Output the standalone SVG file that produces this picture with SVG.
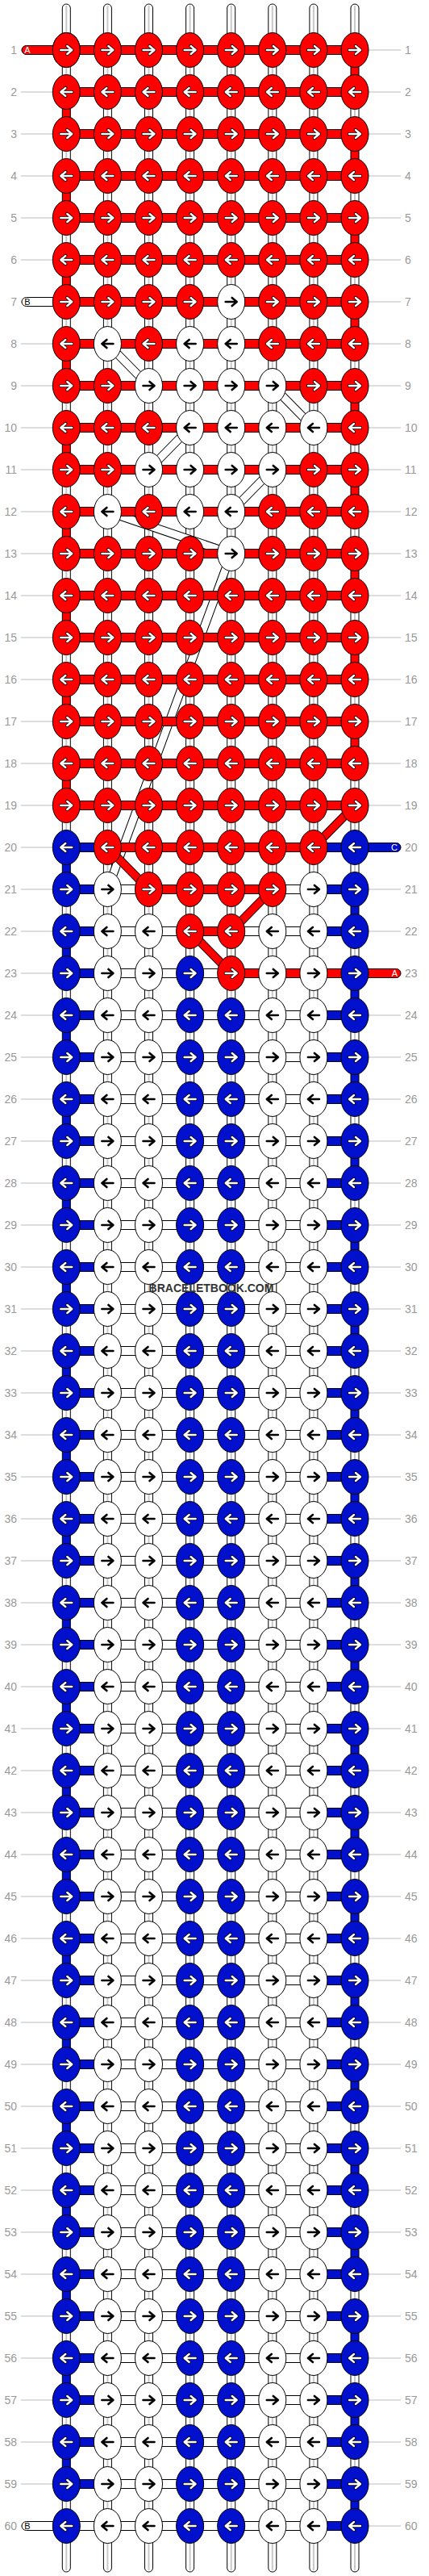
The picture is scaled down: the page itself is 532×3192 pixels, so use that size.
<svg xmlns="http://www.w3.org/2000/svg" width="532" height="3192" viewBox="0 0 532 3192">
<style>
.st{stroke:#000;stroke-width:1}
.r{fill:#f00}.b{fill:#0010cc}.w{fill:#fff}
.sp{stroke:#c8c8c8;stroke-width:2;fill:none}
.ln{stroke:#bbb;stroke-width:1;fill:none}
.lb{font-family:"Liberation Sans",Arial,sans-serif;font-size:14px;fill:#999}
.ll{text-anchor:end}
.ao{fill:none;stroke:#000;stroke-width:4.2;stroke-linecap:round;stroke-linejoin:round}
.aw{fill:none;stroke:#fff;stroke-width:2.4;stroke-linecap:round;stroke-linejoin:round}
.ab{fill:none;stroke:#000;stroke-width:2.6;stroke-linecap:round;stroke-linejoin:round}
.tl{font-family:"Liberation Sans",Arial,sans-serif;font-size:11px;text-anchor:middle}
.dO{stroke:#000;stroke-width:11;fill:none}
.dW{stroke:#fff;stroke-width:9;fill:none}
.dR{stroke:#f00;stroke-width:9;fill:none}
.wm{font-family:"Liberation Sans",Arial,sans-serif;font-size:14px;font-weight:bold;fill:#333;text-anchor:middle}
</style>
<defs>
<path id="ar" d="M-7,0H6M1,-5L7,0L1,5"/>
<path id="al" d="M7,0H-6M-1,-5L-7,0L-1,5"/>
<g id="Rr"><ellipse class="r st" rx="17" ry="21.5"/><use href="#ar" class="ao"/><use href="#ar" class="aw"/></g>
<g id="Rl"><ellipse class="r st" rx="17" ry="21.5"/><use href="#al" class="ao"/><use href="#al" class="aw"/></g>
<g id="Br"><ellipse class="b st" rx="17" ry="21.5"/><use href="#ar" class="ao"/><use href="#ar" class="aw"/></g>
<g id="Bl"><ellipse class="b st" rx="17" ry="21.5"/><use href="#al" class="ao"/><use href="#al" class="aw"/></g>
<g id="Wr"><ellipse class="w st" rx="17" ry="21.5"/><use href="#ar" class="ab"/></g>
<g id="Wl"><ellipse class="w st" rx="17" ry="21.5"/><use href="#al" class="ab"/></g>
<rect id="hR" class="r st" y="-5.5" width="51.1" height="11"/>
<rect id="hB" class="b st" y="-5.5" width="51.1" height="11"/>
<rect id="hW" class="w st" y="-5.5" width="51.1" height="11"/>
<g id="sW"><rect class="w st" x="-5" y="0" width="10" height="52"/><path class="sp" d="M0,0V52"/></g>
<rect id="sR" class="r st" x="-5" y="0" width="10" height="52"/>
<rect id="sB" class="b st" x="-5" y="0" width="10" height="52"/>
<g id="vW"><use href="#sW" x="82.3"/><use href="#sW" x="133.4"/><use href="#sW" x="184.5"/><use href="#sW" x="235.6"/><use href="#sW" x="286.7"/><use href="#sW" x="337.8"/><use href="#sW" x="388.9"/><use href="#sW" x="440"/></g>
<g id="vR8"><use href="#sW" x="82.3"/><use href="#sW" x="133.4"/><use href="#sW" x="184.5"/><use href="#sW" x="235.6"/><use href="#sW" x="286.7"/><use href="#sW" x="337.8"/><use href="#sW" x="388.9"/><use href="#sR" x="440"/></g>
<g id="vR1"><use href="#sR" x="82.3"/><use href="#sW" x="133.4"/><use href="#sW" x="184.5"/><use href="#sW" x="235.6"/><use href="#sW" x="286.7"/><use href="#sW" x="337.8"/><use href="#sW" x="388.9"/><use href="#sW" x="440"/></g>
<g id="vB8"><use href="#sW" x="82.3"/><use href="#sW" x="133.4"/><use href="#sW" x="184.5"/><use href="#sW" x="235.6"/><use href="#sW" x="286.7"/><use href="#sW" x="337.8"/><use href="#sW" x="388.9"/><use href="#sB" x="440"/></g>
<g id="vB1"><use href="#sB" x="82.3"/><use href="#sW" x="133.4"/><use href="#sW" x="184.5"/><use href="#sW" x="235.6"/><use href="#sW" x="286.7"/><use href="#sW" x="337.8"/><use href="#sW" x="388.9"/><use href="#sW" x="440"/></g>
<path id="gl" class="ln" d="M26,0H66M456,0H497"/>
<g id="barsR"><use href="#hR" x="82.3"/><use href="#hR" x="133.4"/><use href="#hR" x="184.5"/><use href="#hR" x="235.6"/><use href="#hR" x="286.7"/><use href="#hR" x="337.8"/><use href="#hR" x="388.9"/></g>
<g id="barsB"><use href="#hB" x="82.3"/><use href="#hW" x="133.4"/><use href="#hW" x="184.5"/><use href="#hW" x="235.6"/><use href="#hW" x="286.7"/><use href="#hW" x="337.8"/><use href="#hB" x="388.9"/></g>
<g id="rowRR"><use href="#gl"/><use href="#barsR"/><use href="#Rr" x="82.3"/><use href="#Rr" x="133.4"/><use href="#Rr" x="184.5"/><use href="#Rr" x="235.6"/><use href="#Rr" x="286.7"/><use href="#Rr" x="337.8"/><use href="#Rr" x="388.9"/><use href="#Rr" x="440"/></g>
<g id="rowRL"><use href="#gl"/><use href="#barsR"/><use href="#Rl" x="82.3"/><use href="#Rl" x="133.4"/><use href="#Rl" x="184.5"/><use href="#Rl" x="235.6"/><use href="#Rl" x="286.7"/><use href="#Rl" x="337.8"/><use href="#Rl" x="388.9"/><use href="#Rl" x="440"/></g>
<g id="rowBR"><use href="#gl"/><use href="#barsB"/><use href="#Br" x="82.3"/><use href="#Wr" x="133.4"/><use href="#Wr" x="184.5"/><use href="#Br" x="235.6"/><use href="#Br" x="286.7"/><use href="#Wr" x="337.8"/><use href="#Wr" x="388.9"/><use href="#Br" x="440"/></g>
<g id="rowBL"><use href="#gl"/><use href="#barsB"/><use href="#Bl" x="82.3"/><use href="#Wl" x="133.4"/><use href="#Wl" x="184.5"/><use href="#Bl" x="235.6"/><use href="#Bl" x="286.7"/><use href="#Wl" x="337.8"/><use href="#Wl" x="388.9"/><use href="#Bl" x="440"/></g>
<g id="tt"><path class="w st" d="M-5,62V10A5,5 0 0 1 5,10V62Z"/><path class="sp" d="M0,7V62"/></g>
<g id="tb"><path class="w st" d="M-5,3130V3182A5,5 0 0 0 5,3182V3130Z"/><path class="sp" d="M0,3130V3185"/></g>
</defs>
<rect width="532" height="3192" fill="#fff"/>
<g id="connectors">
<g id="tails"><use href="#tt" x="82.3"/><use href="#tt" x="133.4"/><use href="#tt" x="184.5"/><use href="#tt" x="235.6"/><use href="#tt" x="286.7"/><use href="#tt" x="337.8"/><use href="#tt" x="388.9"/><use href="#tt" x="440"/>
<use href="#tb" x="82.3"/><use href="#tb" x="133.4"/><use href="#tb" x="184.5"/><use href="#tb" x="235.6"/><use href="#tb" x="286.7"/><use href="#tb" x="337.8"/><use href="#tb" x="388.9"/><use href="#tb" x="440"/></g>
<g id="verticals">
<use href="#vR8" y="62"/><use href="#vR1" y="114"/><use href="#vR8" y="166"/><use href="#vR1" y="218"/><use href="#vR8" y="270"/><use href="#vR1" y="322"/><use href="#vR8" y="374"/><use href="#vR1" y="426"/><use href="#vR8" y="478"/><use href="#vR1" y="530"/><use href="#vR8" y="582"/><use href="#vR1" y="634"/><use href="#vR8" y="686"/><use href="#vR1" y="738"/><use href="#vR8" y="790"/><use href="#vR1" y="842"/><use href="#vR8" y="894"/><use href="#vR1" y="946"/><use href="#vW" y="998"/>
<use href="#vB1" y="1050"/><use href="#vB8" y="1102"/><use href="#vB1" y="1154"/><use href="#vB8" y="1206"/>
<use href="#vB1" y="1258"/><use href="#vB8" y="1310"/><use href="#vB1" y="1362"/><use href="#vB8" y="1414"/><use href="#vB1" y="1466"/><use href="#vB8" y="1518"/><use href="#vB1" y="1570"/><use href="#vB8" y="1622"/><use href="#vB1" y="1674"/><use href="#vB8" y="1726"/><use href="#vB1" y="1778"/><use href="#vB8" y="1830"/><use href="#vB1" y="1882"/><use href="#vB8" y="1934"/><use href="#vB1" y="1986"/><use href="#vB8" y="2038"/><use href="#vB1" y="2090"/><use href="#vB8" y="2142"/><use href="#vB1" y="2194"/><use href="#vB8" y="2246"/><use href="#vB1" y="2298"/><use href="#vB8" y="2350"/><use href="#vB1" y="2402"/><use href="#vB8" y="2454"/><use href="#vB1" y="2506"/><use href="#vB8" y="2558"/><use href="#vB1" y="2610"/><use href="#vB8" y="2662"/><use href="#vB1" y="2714"/><use href="#vB8" y="2766"/><use href="#vB1" y="2818"/><use href="#vB8" y="2870"/><use href="#vB1" y="2922"/><use href="#vB8" y="2974"/><use href="#vB1" y="3026"/><use href="#vB8" y="3078"/>
</g>
<g id="diagonals">
<path class="dO" d="M133.4,426L184.5,478M337.8,478L388.9,530M235.6,530L184.5,582M337.8,582L286.7,634M133.4,634L286.7,686M286.7,686L133.4,1102"/>
<path class="dW" d="M133.4,426L184.5,478M337.8,478L388.9,530M235.6,530L184.5,582M337.8,582L286.7,634M133.4,634L286.7,686M286.7,686L133.4,1102"/>
<path class="dO" d="M440,998L388.9,1050M133.4,1050L184.5,1102M337.8,1102L286.7,1154M235.6,1154L286.7,1206"/>
<path class="dR" d="M440,998L388.9,1050M133.4,1050L184.5,1102M337.8,1102L286.7,1154M235.6,1154L286.7,1206"/>
</g>
</g>
<g id="row1"><use href="#rowRR" y="62"/><g transform="translate(0,62)"><path class="r st" d="M82,-5.5H32.5A5.5,5.5 0 0 0 32.5,5.5H82Z"/><text class="tl" x="34" y="4" fill="#fff">A</text><use href="#Rr" x="82.3"/></g></g>
<use id="row2" href="#rowRL" y="114"/>
<use id="row3" href="#rowRR" y="166"/>
<use id="row4" href="#rowRL" y="218"/>
<use id="row5" href="#rowRR" y="270"/>
<use id="row6" href="#rowRL" y="322"/>
<g id="row7" transform="translate(0,374)"><use href="#gl"/><use href="#barsR"/><path class="w st" d="M82,-5.5H32.5A5.5,5.5 0 0 0 32.5,5.5H82Z"/><text class="tl" x="34" y="4" fill="#000">B</text><use href="#Rr" x="82.3"/><use href="#Rr" x="133.4"/><use href="#Rr" x="184.5"/><use href="#Rr" x="235.6"/><use href="#Wr" x="286.7"/><use href="#Rr" x="337.8"/><use href="#Rr" x="388.9"/><use href="#Rr" x="440"/></g>
<g id="row8" transform="translate(0,426)"><use href="#gl"/><use href="#barsR"/><use href="#Rl" x="82.3"/><use href="#Wl" x="133.4"/><use href="#Rl" x="184.5"/><use href="#Wl" x="235.6"/><use href="#Wl" x="286.7"/><use href="#Rl" x="337.8"/><use href="#Rl" x="388.9"/><use href="#Rl" x="440"/></g>
<g id="row9" transform="translate(0,478)"><use href="#gl"/><use href="#barsR"/><use href="#Rr" x="82.3"/><use href="#Rr" x="133.4"/><use href="#Wr" x="184.5"/><use href="#Wr" x="235.6"/><use href="#Wr" x="286.7"/><use href="#Wr" x="337.8"/><use href="#Rr" x="388.9"/><use href="#Rr" x="440"/></g>
<g id="row10" transform="translate(0,530)"><use href="#gl"/><use href="#barsR"/><use href="#Rl" x="82.3"/><use href="#Rl" x="133.4"/><use href="#Rl" x="184.5"/><use href="#Wl" x="235.6"/><use href="#Wl" x="286.7"/><use href="#Wl" x="337.8"/><use href="#Wl" x="388.9"/><use href="#Rl" x="440"/></g>
<g id="row11" transform="translate(0,582)"><use href="#gl"/><use href="#barsR"/><use href="#Rr" x="82.3"/><use href="#Rr" x="133.4"/><use href="#Wr" x="184.5"/><use href="#Wr" x="235.6"/><use href="#Wr" x="286.7"/><use href="#Wr" x="337.8"/><use href="#Rr" x="388.9"/><use href="#Rr" x="440"/></g>
<g id="row12" transform="translate(0,634)"><use href="#gl"/><use href="#barsR"/><use href="#Rl" x="82.3"/><use href="#Wl" x="133.4"/><use href="#Rl" x="184.5"/><use href="#Wl" x="235.6"/><use href="#Wl" x="286.7"/><use href="#Rl" x="337.8"/><use href="#Rl" x="388.9"/><use href="#Rl" x="440"/></g>
<g id="row13" transform="translate(0,686)"><use href="#gl"/><use href="#barsR"/><use href="#Rr" x="82.3"/><use href="#Rr" x="133.4"/><use href="#Rr" x="184.5"/><use href="#Rr" x="235.6"/><use href="#Wr" x="286.7"/><use href="#Rr" x="337.8"/><use href="#Rr" x="388.9"/><use href="#Rr" x="440"/></g>
<use id="row14" href="#rowRL" y="738"/>
<use id="row15" href="#rowRR" y="790"/>
<use id="row16" href="#rowRL" y="842"/>
<use id="row17" href="#rowRR" y="894"/>
<use id="row18" href="#rowRL" y="946"/>
<use id="row19" href="#rowRR" y="998"/>
<g id="row20" transform="translate(0,1050)"><use href="#gl"/><use href="#hB" x="82.3"/><use href="#hR" x="133.4"/><use href="#hR" x="184.5"/><use href="#hR" x="235.6"/><use href="#hR" x="286.7"/><use href="#hR" x="337.8"/><use href="#hB" x="388.9"/><path class="b st" d="M440,-5.5H491.5A5.5,5.5 0 0 1 491.5,5.5H440Z"/><text class="tl" x="489" y="4" fill="#fff">C</text><use href="#Bl" x="82.3"/><use href="#Rl" x="133.4"/><use href="#Rl" x="184.5"/><use href="#Rl" x="235.6"/><use href="#Rl" x="286.7"/><use href="#Rl" x="337.8"/><use href="#Rl" x="388.9"/><use href="#Bl" x="440"/></g>
<g id="row21" transform="translate(0,1102)"><use href="#gl"/><use href="#hB" x="82.3"/><use href="#hW" x="133.4"/><use href="#hR" x="184.5"/><use href="#hR" x="235.6"/><use href="#hR" x="286.7"/><use href="#hW" x="337.8"/><use href="#hB" x="388.9"/><use href="#Br" x="82.3"/><use href="#Wr" x="133.4"/><use href="#Rr" x="184.5"/><use href="#Rr" x="235.6"/><use href="#Rr" x="286.7"/><use href="#Rr" x="337.8"/><use href="#Wr" x="388.9"/><use href="#Br" x="440"/></g>
<g id="row22" transform="translate(0,1154)"><use href="#gl"/><use href="#hB" x="82.3"/><use href="#hW" x="133.4"/><use href="#hW" x="184.5"/><use href="#hR" x="235.6"/><use href="#hW" x="286.7"/><use href="#hW" x="337.8"/><use href="#hB" x="388.9"/><use href="#Bl" x="82.3"/><use href="#Wl" x="133.4"/><use href="#Wl" x="184.5"/><use href="#Rl" x="235.6"/><use href="#Rl" x="286.7"/><use href="#Wl" x="337.8"/><use href="#Wl" x="388.9"/><use href="#Bl" x="440"/></g>
<g id="row23" transform="translate(0,1206)"><use href="#gl"/><use href="#hB" x="82.3"/><use href="#hW" x="133.4"/><use href="#hW" x="184.5"/><use href="#hW" x="235.6"/><use href="#hR" x="286.7"/><use href="#hR" x="337.8"/><use href="#hR" x="388.9"/><path class="r st" d="M440,-5.5H491.5A5.5,5.5 0 0 1 491.5,5.5H440Z"/><text class="tl" x="489.5" y="4" fill="#fff">A</text><use href="#Br" x="82.3"/><use href="#Wr" x="133.4"/><use href="#Wr" x="184.5"/><use href="#Br" x="235.6"/><use href="#Rr" x="286.7"/><use href="#Wr" x="337.8"/><use href="#Wr" x="388.9"/><use href="#Br" x="440"/></g>
<use id="row24" href="#rowBL" y="1258"/>
<use id="row25" href="#rowBR" y="1310"/>
<use id="row26" href="#rowBL" y="1362"/>
<use id="row27" href="#rowBR" y="1414"/>
<use id="row28" href="#rowBL" y="1466"/>
<use id="row29" href="#rowBR" y="1518"/>
<use id="row30" href="#rowBL" y="1570"/>
<use id="row31" href="#rowBR" y="1622"/>
<use id="row32" href="#rowBL" y="1674"/>
<use id="row33" href="#rowBR" y="1726"/>
<use id="row34" href="#rowBL" y="1778"/>
<use id="row35" href="#rowBR" y="1830"/>
<use id="row36" href="#rowBL" y="1882"/>
<use id="row37" href="#rowBR" y="1934"/>
<use id="row38" href="#rowBL" y="1986"/>
<use id="row39" href="#rowBR" y="2038"/>
<use id="row40" href="#rowBL" y="2090"/>
<use id="row41" href="#rowBR" y="2142"/>
<use id="row42" href="#rowBL" y="2194"/>
<use id="row43" href="#rowBR" y="2246"/>
<use id="row44" href="#rowBL" y="2298"/>
<use id="row45" href="#rowBR" y="2350"/>
<use id="row46" href="#rowBL" y="2402"/>
<use id="row47" href="#rowBR" y="2454"/>
<use id="row48" href="#rowBL" y="2506"/>
<use id="row49" href="#rowBR" y="2558"/>
<use id="row50" href="#rowBL" y="2610"/>
<use id="row51" href="#rowBR" y="2662"/>
<use id="row52" href="#rowBL" y="2714"/>
<use id="row53" href="#rowBR" y="2766"/>
<use id="row54" href="#rowBL" y="2818"/>
<use id="row55" href="#rowBR" y="2870"/>
<use id="row56" href="#rowBL" y="2922"/>
<use id="row57" href="#rowBR" y="2974"/>
<use id="row58" href="#rowBL" y="3026"/>
<use id="row59" href="#rowBR" y="3078"/>
<g id="row60" transform="translate(0,3130)"><use href="#gl"/><use href="#hW" x="82.3"/><use href="#hW" x="133.4"/><use href="#hW" x="184.5"/><use href="#hW" x="235.6"/><use href="#hW" x="286.7"/><use href="#hW" x="337.8"/><use href="#hB" x="388.9"/><path class="w st" d="M82,-5.5H32.5A5.5,5.5 0 0 0 32.5,5.5H82Z"/><text class="tl" x="34" y="4" fill="#000">B</text><use href="#Bl" x="82.3"/><use href="#Wl" x="133.4"/><use href="#Wl" x="184.5"/><use href="#Bl" x="235.6"/><use href="#Bl" x="286.7"/><use href="#Wl" x="337.8"/><use href="#Wl" x="388.9"/><use href="#Bl" x="440"/></g>
<g id="labels">
<text class="lb ll" x="21" y="67">1</text><text class="lb" x="502" y="67">1</text>
<text class="lb ll" x="21" y="119">2</text><text class="lb" x="502" y="119">2</text>
<text class="lb ll" x="21" y="171">3</text><text class="lb" x="502" y="171">3</text>
<text class="lb ll" x="21" y="223">4</text><text class="lb" x="502" y="223">4</text>
<text class="lb ll" x="21" y="275">5</text><text class="lb" x="502" y="275">5</text>
<text class="lb ll" x="21" y="327">6</text><text class="lb" x="502" y="327">6</text>
<text class="lb ll" x="21" y="379">7</text><text class="lb" x="502" y="379">7</text>
<text class="lb ll" x="21" y="431">8</text><text class="lb" x="502" y="431">8</text>
<text class="lb ll" x="21" y="483">9</text><text class="lb" x="502" y="483">9</text>
<text class="lb ll" x="21" y="535">10</text><text class="lb" x="502" y="535">10</text>
<text class="lb ll" x="21" y="587">11</text><text class="lb" x="502" y="587">11</text>
<text class="lb ll" x="21" y="639">12</text><text class="lb" x="502" y="639">12</text>
<text class="lb ll" x="21" y="691">13</text><text class="lb" x="502" y="691">13</text>
<text class="lb ll" x="21" y="743">14</text><text class="lb" x="502" y="743">14</text>
<text class="lb ll" x="21" y="795">15</text><text class="lb" x="502" y="795">15</text>
<text class="lb ll" x="21" y="847">16</text><text class="lb" x="502" y="847">16</text>
<text class="lb ll" x="21" y="899">17</text><text class="lb" x="502" y="899">17</text>
<text class="lb ll" x="21" y="951">18</text><text class="lb" x="502" y="951">18</text>
<text class="lb ll" x="21" y="1003">19</text><text class="lb" x="502" y="1003">19</text>
<text class="lb ll" x="21" y="1055">20</text><text class="lb" x="502" y="1055">20</text>
<text class="lb ll" x="21" y="1107">21</text><text class="lb" x="502" y="1107">21</text>
<text class="lb ll" x="21" y="1159">22</text><text class="lb" x="502" y="1159">22</text>
<text class="lb ll" x="21" y="1211">23</text><text class="lb" x="502" y="1211">23</text>
<text class="lb ll" x="21" y="1263">24</text><text class="lb" x="502" y="1263">24</text>
<text class="lb ll" x="21" y="1315">25</text><text class="lb" x="502" y="1315">25</text>
<text class="lb ll" x="21" y="1367">26</text><text class="lb" x="502" y="1367">26</text>
<text class="lb ll" x="21" y="1419">27</text><text class="lb" x="502" y="1419">27</text>
<text class="lb ll" x="21" y="1471">28</text><text class="lb" x="502" y="1471">28</text>
<text class="lb ll" x="21" y="1523">29</text><text class="lb" x="502" y="1523">29</text>
<text class="lb ll" x="21" y="1575">30</text><text class="lb" x="502" y="1575">30</text>
<text class="lb ll" x="21" y="1627">31</text><text class="lb" x="502" y="1627">31</text>
<text class="lb ll" x="21" y="1679">32</text><text class="lb" x="502" y="1679">32</text>
<text class="lb ll" x="21" y="1731">33</text><text class="lb" x="502" y="1731">33</text>
<text class="lb ll" x="21" y="1783">34</text><text class="lb" x="502" y="1783">34</text>
<text class="lb ll" x="21" y="1835">35</text><text class="lb" x="502" y="1835">35</text>
<text class="lb ll" x="21" y="1887">36</text><text class="lb" x="502" y="1887">36</text>
<text class="lb ll" x="21" y="1939">37</text><text class="lb" x="502" y="1939">37</text>
<text class="lb ll" x="21" y="1991">38</text><text class="lb" x="502" y="1991">38</text>
<text class="lb ll" x="21" y="2043">39</text><text class="lb" x="502" y="2043">39</text>
<text class="lb ll" x="21" y="2095">40</text><text class="lb" x="502" y="2095">40</text>
<text class="lb ll" x="21" y="2147">41</text><text class="lb" x="502" y="2147">41</text>
<text class="lb ll" x="21" y="2199">42</text><text class="lb" x="502" y="2199">42</text>
<text class="lb ll" x="21" y="2251">43</text><text class="lb" x="502" y="2251">43</text>
<text class="lb ll" x="21" y="2303">44</text><text class="lb" x="502" y="2303">44</text>
<text class="lb ll" x="21" y="2355">45</text><text class="lb" x="502" y="2355">45</text>
<text class="lb ll" x="21" y="2407">46</text><text class="lb" x="502" y="2407">46</text>
<text class="lb ll" x="21" y="2459">47</text><text class="lb" x="502" y="2459">47</text>
<text class="lb ll" x="21" y="2511">48</text><text class="lb" x="502" y="2511">48</text>
<text class="lb ll" x="21" y="2563">49</text><text class="lb" x="502" y="2563">49</text>
<text class="lb ll" x="21" y="2615">50</text><text class="lb" x="502" y="2615">50</text>
<text class="lb ll" x="21" y="2667">51</text><text class="lb" x="502" y="2667">51</text>
<text class="lb ll" x="21" y="2719">52</text><text class="lb" x="502" y="2719">52</text>
<text class="lb ll" x="21" y="2771">53</text><text class="lb" x="502" y="2771">53</text>
<text class="lb ll" x="21" y="2823">54</text><text class="lb" x="502" y="2823">54</text>
<text class="lb ll" x="21" y="2875">55</text><text class="lb" x="502" y="2875">55</text>
<text class="lb ll" x="21" y="2927">56</text><text class="lb" x="502" y="2927">56</text>
<text class="lb ll" x="21" y="2979">57</text><text class="lb" x="502" y="2979">57</text>
<text class="lb ll" x="21" y="3031">58</text><text class="lb" x="502" y="3031">58</text>
<text class="lb ll" x="21" y="3083">59</text><text class="lb" x="502" y="3083">59</text>
<text class="lb ll" x="21" y="3135">60</text><text class="lb" x="502" y="3135">60</text>
</g>
<text class="wm" x="262" y="1601">BRACELETBOOK.COM</text>
</svg>
